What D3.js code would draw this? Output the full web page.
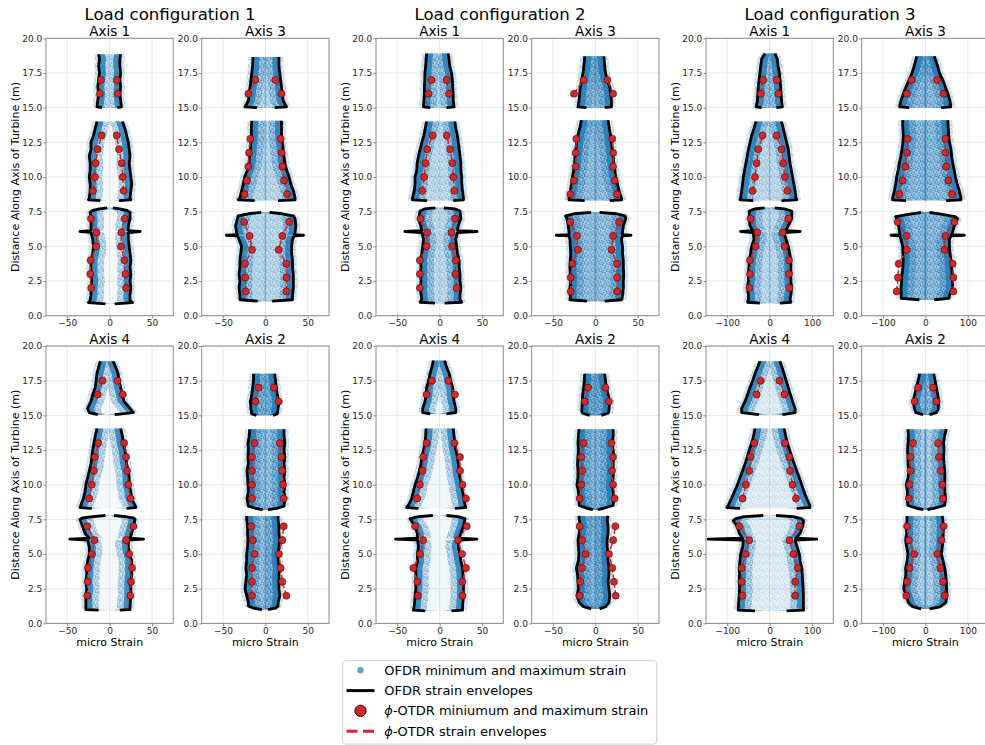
<!DOCTYPE html>
<html><head><meta charset="utf-8">
<script src="https://cdn.jsdelivr.net/npm/d3@7"></script>
<style>body{margin:0;background:#fff}svg{display:block;font-family:"DejaVu Sans",sans-serif}</style>
</head><body><svg id="c" width="985" height="745"></svg>
<script>
// ---------------- data ----------------
const configTitles = ["Load configuration 1", "Load configuration 2", "Load configuration 3"];
const axisTitlesTop = ["Axis 1", "Axis 3"];
const axisTitlesBottom = ["Axis 4", "Axis 2"];
const yTicks = [0, 2.5, 5, 7.5, 10, 12.5, 15, 17.5, 20];
const xTicksSmall = [-50, 0, 50];
const xTicksLarge = [-100, 0, 100];
const xDomainSmall = [-75, 75];
const xDomainLarge = [-150, 150];
const legendLabels = ["OFDR minimum and maximum strain", "OFDR strain envelopes",
  "ϕ-OTDR miniumum and maximum strain", "ϕ-OTDR strain envelopes"];

// OFDR envelopes: segments of [height m, min strain, max strain]
const env_c1_ax1 = [
 [[0.85,-5,6],[0.95,-25,27],[1.1,-23,24],[1.5,-22,24],[2,-22,25],[2.5,-21,24],[3,-22,25],[3.5,-22,24],[4,-22,25],[4.5,-20,24],[5,-19,23],[5.5,-20,22],[6,-22,22],[6.07,-35,36],[6.14,-22,22],[6.5,-22,22],[7,-22,24],[7.45,-23,24],[7.6,-20,20],[7.7,-12,12],[7.78,-3,4]],
 [[8.3,-11,11],[8.35,-25,25],[8.5,-24,24],[9,-23,25],[9.5,-23,26],[10,-24,25],[10.5,-23,24],[11,-23,23],[11.5,-24,24],[12,-22,23],[12.5,-22,22],[13,-19,20],[13.5,-17,18],[14,-15,15]],
 [[15,-9,9],[15.05,-15,14],[15.5,-14,13],[16,-13,12],[16.5,-14,13],[17,-13,12],[17.5,-12,13],[18,-13,12],[18.5,-12,12],[18.85,-13,13]]
];
const env_c1_ax3 = [
 [[1.05,-9,8],[1.15,-30,32],[1.5,-30,32],[2,-31,33],[2.5,-30,33],[3,-31,33],[3.5,-30,32],[4,-30,32],[4.5,-29,31],[5,-28,31],[5.5,-31,32],[5.75,-33,34],[5.8,-46,45],[5.85,-33,34],[6,-34,35],[6.5,-35,36],[7,-33,35],[7.2,-32,33],[7.35,-20,20],[7.45,-5,5]],
 [[8.3,-12.6,15],[8.35,-32,35],[8.5,-30,35],[9,-28,33],[9.5,-26,30],[10,-24.4,28],[10.5,-21,25],[11,-19.3,23],[11.5,-18.5,22],[12,-17.7,21],[12.5,-17,20],[13,-16.5,19],[13.5,-16.5,19],[14.05,-16,19]],
 [[15,-10,11],[15.05,-24,25],[15.5,-20,21],[16,-19,20],[16.5,-18,19],[17,-17,18],[17.5,-16,17],[18,-15,16],[18.65,-14.6,16]]
];
const env_c1_ax4 = [
 [[0.95,-13,12],[1,-28,24],[1.2,-28,24],[2,-28,25],[2.5,-27,25],[3,-28,25],[3.5,-27,26],[4,-27,26],[4.5,-26,26],[5,-24,24],[5.5,-24,22],[6,-26,22],[6.07,-47,40],[6.14,-24,24],[6.5,-29,26],[7,-32,28],[7.5,-35,30],[7.6,-32,28],[7.7,-20,18],[7.78,-5,5]],
 [[8.3,-21,20],[8.35,-35,31],[8.5,-34,30],[9,-31,26],[9.5,-29,25],[10,-28,23],[10.5,-26,23],[11,-24,22],[11.5,-22,20],[12,-21,19],[12.5,-20,18],[13,-18.5,16],[13.5,-17,15],[14.05,-15,13]],
 [[15.05,-14,6],[15.2,-24,28],[15.5,-26,24],[16,-22,17],[16.5,-20,15],[17,-17,13],[17.5,-16,11],[18,-15,10],[18.5,-13,7],[18.9,-11,4]]
];
const env_c1_ax2 = [
 [[1,-4,3],[1.1,-14,12],[1.25,-20,15],[1.5,-20,15],[2,-22,17],[2.5,-24,16],[3,-23,16],[3.5,-22,16],[4,-23,17],[4.5,-22,15],[5,-22,15],[5.5,-21,16],[6,-20.5,17],[6.5,-21,16],[7,-21,16],[7.5,-22,15],[7.75,-22,15]],
 [[8.2,-3,3],[8.3,-12,14],[8.45,-20,22],[9,-21.7,23],[9.5,-20,22],[10,-20.5,23],[10.5,-21,22],[11,-21.7,23],[11.5,-20,22],[12,-20.5,23],[12.5,-20,22],[13,-20.5,23],[13.5,-19,22],[14,-18.5,22]],
 [[15,-10.6,9],[15.1,-16,14],[15.5,-17,15],[16,-17.7,16],[16.5,-16,14],[17,-15,13],[17.5,-14,12],[18,-14,11]]
];
const env_c2_ax1 = [
 [[0.9,-5.5,6],[0.97,-23,26],[1.2,-21,24],[1.5,-22,24],[2,-22.5,25],[2.5,-22,24],[3,-22.5,24],[3.5,-22,23],[4,-22.5,23],[4.5,-21,21],[5,-20,20],[5.5,-19,19],[6,-21,21],[6.07,-41,44],[6.14,-21,21],[6.5,-22.5,22],[7,-25,25],[7.55,-23,24],[7.7,-18,18],[7.78,-5,5]],
 [[8.3,-15,16],[8.35,-32,28],[8.5,-32,28],[9,-30,27],[9.5,-29,26],[10,-29,26],[10.5,-27,25],[11,-26.5,25],[11.5,-25,24],[12,-23,23],[12.5,-21,22],[13,-18.6,21],[13.5,-17,19],[14,-15.4,18]],
 [[15,-11,8],[15.05,-19,17],[15.5,-18.6,16],[16,-18,16],[16.5,-18,15.4],[17,-17.5,15],[17.5,-17.4,14],[18,-16.5,12],[18.5,-16,11],[18.9,-15.4,10]]
];
const env_c2_ax3 = [
 [[1.05,-10,11],[1.15,-30,31],[1.4,-29.5,32],[2,-30,33],[2.5,-29,33],[3,-29.5,33.5],[3.5,-30,33],[4,-29.5,33],[4.5,-29,32],[5,-29.5,32],[5.5,-30,30.7],[5.75,-31,32],[5.8,-46,42],[5.85,-31,32],[6,-31,32],[6.5,-32,33],[7,-33.5,36],[7.2,-35,35],[7.35,-25,25],[7.45,-5,5]],
 [[8.3,-12.6,17],[8.35,-31,31],[8.5,-31,30.7],[9,-29.5,28],[9.5,-28,26],[10,-27,24],[10.5,-25.5,23],[11,-24.4,21.7],[11.5,-24,21],[12,-23,20],[12.5,-22,19],[13,-20.5,18],[13.5,-18.5,16.5],[14.1,-16.5,15]],
 [[15,-10.6,11],[15.05,-20.5,19],[15.5,-19.3,19],[16,-18.5,18],[16.5,-17.7,17],[17,-16,14],[17.5,-14.6,12],[18,-13.5,11],[18.7,-12.6,10]]
];
const env_c2_ax4 = [
 [[0.9,-17,14],[0.95,-31,27],[1.2,-30,27],[2,-29,28],[2.5,-28,28],[3,-28,28],[3.5,-28,27.5],[4,-28,27],[4.5,-26,25],[5,-26.4,24],[5.5,-25,22],[6,-26,23],[6.07,-52,44],[6.14,-26,23],[6.5,-26.4,25],[7,-29,28],[7.55,-35,30],[7.7,-25,22],[7.78,-8,8]],
 [[8.3,-25,18],[8.35,-39,31],[8.5,-37,30],[9,-33,28.7],[9.5,-31,27],[10,-29,26],[10.5,-26,24],[11,-24,23],[11.5,-22,22],[12,-21,21],[12.5,-19,19],[13,-17.3,18],[13.5,-16.5,17],[14.05,-16,16]],
 [[15.1,-11,8],[15.2,-20,19],[15.5,-20,19],[16,-17.3,17],[16.5,-16,16],[17,-15.4,15.4],[17.5,-13,13],[18,-11.4,11.4],[18.5,-9,8],[18.95,-7.5,6]]
];
const env_c2_ax2 = [
 [[1.05,-5,5],[1.2,-14,12],[1.5,-19,16],[2,-21.7,17],[2.5,-20,16],[3,-20.5,15],[3.5,-21,16],[4,-22.4,16],[4.5,-20,15],[5,-19.3,15],[5.5,-20,14],[6,-20.5,13.8],[6.5,-19,15],[7,-17.7,15],[7.5,-19,14],[7.75,-19.3,15]],
 [[8.2,-3,3],[8.3,-10,10],[8.5,-19,21],[9,-19.3,21.7],[9.5,-20,21],[10,-21.7,20],[10.5,-20.5,21],[11,-20.5,21],[11.5,-21,21],[12,-20.5,21.7],[12.5,-20,21],[13,-20.5,20],[13.5,-20,21],[14,-19.3,21]],
 [[15,-6.7,7],[15.15,-15,15],[15.3,-16,16],[16,-15.4,17],[16.5,-15,15],[17,-13.8,13],[17.5,-13,12],[18,-12.6,11]]
];
const env_c3_ax1 = [
 [[0.9,-23,24],[0.97,-52,50],[1.2,-50,48],[1.5,-50,50],[2,-52.8,52],[2.5,-50,50],[3,-50,50],[3.5,-49,50],[4,-48,50],[4.5,-45,47],[5,-42.5,44],[5.5,-37,38.6],[6,-38.6,34],[6.07,-68.5,72],[6.14,-40,38],[6.5,-46.5,44],[7,-48,52],[7.55,-48,52],[7.7,-35,35],[7.78,-12,12]],
 [[8.3,-38.6,28],[8.35,-70,64],[8.5,-68.5,62],[9,-66,60],[9.5,-64,57],[10,-62,54],[10.5,-59,51],[11,-56,48],[11.5,-53,46],[12,-50,44],[12.5,-46,40],[13,-42.5,36],[13.5,-37,32],[14,-32,28]],
 [[15,-19,16],[15.05,-32,30],[15.5,-29,28],[16,-28,27],[16.5,-27,26],[17,-25,24.5],[17.5,-23,23],[18,-21,20],[18.5,-19,18],[18.9,-11,12.6]]
];
const env_c3_ax3 = [
 [[1.15,-14,21],[1.25,-57,56],[1.5,-57,57],[2,-57.5,64.6],[2.5,-56,64],[3,-55,63],[3.5,-53,62],[4,-52,60.6],[4.5,-53,58],[5,-53.5,56.7],[5.5,-57.5,56.7],[5.75,-60,60],[5.8,-81,92],[5.85,-60,62],[6,-61,64],[6.5,-63,68.5],[7,-67.7,76],[7.15,-70,70],[7.3,-40,40],[7.45,-10,10]],
 [[8.3,-45.7,49],[8.35,-77,84],[8.5,-77,84],[9,-73,80],[9.5,-70,75],[10,-67.7,71],[10.5,-64,68],[11,-61.4,64.6],[11.5,-58,62],[12,-55,60.6],[12.5,-53,57],[13,-52,55],[13.5,-53,54],[14.1,-53.5,53]],
 [[15,-38,37],[15.05,-61,60],[15.5,-57.5,58],[16,-52,53],[16.5,-45.7,47],[17,-38,41],[17.5,-31.5,33],[18,-26,29],[18.7,-20.5,21]]
];
const env_c3_ax4 = [
 [[0.9,-34.6,40],[0.95,-74,80],[1.2,-74,79.5],[2,-71.7,79.5],[2.5,-71,79],[3,-71.7,78],[3.5,-71,77],[4,-71.7,75.6],[4.5,-70,72],[5,-68.5,70],[5.5,-63.8,65],[6,-62,60],[6.07,-145,111],[6.14,-64,62],[6.5,-71.7,71.7],[7,-76,78],[7.4,-86,80],[7.55,-80,75],[7.7,-60,55],[7.78,-15,15]],
 [[8.3,-70,63.8],[8.35,-101,95],[8.5,-97.6,95],[9,-90,87.4],[9.5,-83,81],[10,-76,75.6],[10.5,-70,70],[11,-63.8,63.8],[11.5,-58,58],[12,-52.8,52],[12.5,-48,47],[13,-42.5,41.7],[13.5,-38,38],[14.05,-34.6,34]],
 [[15.05,-25,30],[15.2,-66,60],[15.5,-66,60],[16,-58,54],[16.5,-52,49],[17,-46.5,44],[17.5,-40,39],[18,-34.6,34],[18.5,-28,29],[18.9,-23,24]]
];
const env_c3_ax2 = [
 [[1.05,-10,10],[1.2,-30,35],[1.5,-40,48],[2,-45,51],[2.5,-51,50],[3,-48.8,49.6],[3.5,-46,48],[4,-46.5,45.7],[4.5,-43,42],[5,-41,37.8],[5.5,-44,40],[6,-46.5,41.7],[6.5,-44,42],[7,-45,43],[7.5,-43,41],[7.75,-43,40]],
 [[8.2,-5,5],[8.3,-20,20],[8.5,-41,45],[9,-43,48],[9.5,-42,46],[10,-45,45.7],[10.5,-41,46],[11,-38.6,45.7],[11.5,-41,44],[12,-41,43],[12.5,-42,44],[13,-41,43],[13.5,-40,45],[14,-41,49.6]],
 [[15.05,-5.5,10],[15.2,-22,26],[15.4,-25,30],[16,-29,32],[16.5,-25,29],[17,-21,26],[17.5,-17,23],[18,-13.4,19.7]]
];

// phi-OTDR points: segments of [height m, min strain, max strain]
const red_c1_ax1 = [[[2,-21.7,19.3],[3,-22.8,18.5],[4,-22.4,17.3],[5,-16,13.4],[6,-15.4,13.8],[7,-22,17.7]],[[9,-19.7,16.5],[10,-17.3,15.4],[11,-16.5,14.2],[12,-14.2,11],[13,-9.4,8.3]],[[16,-11.5,9.5],[17,-10.3,8.5]]];
const red_c1_ax3 = [[[1.75,-23,24.8],[2.75,-23.6,24.8],[3.75,-24,24.8],[4.75,-15.7,15.7],[5.75,-18.5,20],[6.75,-25,28]],[[8.75,-24.4,25.6],[9.75,-21.6,22],[10.75,-20,20],[11.75,-19.3,19.3],[12.75,-17.7,18]],[[16,-20,19],[17,-11.8,11.8]]];
const red_c1_ax4 = [[[2,-26.4,24.4],[3,-26,25.2],[4,-25.6,26.4],[5,-21,23],[6,-17.7,19.3],[7,-26.4,28]],[[9,-24,24.8],[10,-21,22],[11,-18.5,20.5],[12,-17.3,19.3],[13,-13.4,17]],[[16.5,-14,15.4],[17.5,-8.3,9.4]]];
const red_c1_ax2 = [[[2,-15.7,24.8],[3,-15.7,20],[4,-15.7,18],[5,-12.6,16],[6,-14.6,20],[7,-16.5,21.7]],[[9,-15.7,21.7],[10,-15.7,20.9],[11,-15.7,19.7],[12,-15.7,19],[13,-12.6,17]],[[16,-11.8,15.7],[17,-7.9,10.2]]];
const red_c2_ax1 = [[[2,-23.3,20],[3,-23.3,18.6],[4,-23.3,19],[5,-15.4,14.6],[6,-14.6,13.8],[7,-22.5,18]],[[9,-20.6,17.4],[10,-18.2,16.2],[11,-16.6,15],[12,-14.6,12.3],[13,-8.3,8.3]],[[16,-13,11],[17,-9.5,8.3]]];
const red_c2_ax3 = [[[1.75,-29,25.6],[2.75,-29,25.6],[3.75,-27,25.6],[4.75,-20.5,19],[5.75,-21.7,21],[6.75,-29.5,28]],[[8.75,-29.5,25.6],[9.75,-25.2,22.8],[10.75,-23.2,20.9],[11.75,-23.2,21],[12.75,-22.4,20]],[[16,-25.2,20.9],[17,-13.8,14.2]]];
const red_c2_ax4 = [[[2,-25.6,27],[3,-26.4,26.8],[4,-31,31],[5,-23.2,26.4],[6,-19.3,21.7],[7,-29,32]],[[9,-26.4,31],[10,-23.2,26.8],[11,-20,24],[12,-19.3,24],[13,-15.4,17.3]],[[16.5,-15.4,18],[17.5,-9,10.2]]];
const red_c2_ax2 = [[[2,-18.5,24],[3,-17.7,22],[4,-15.7,20],[5,-11.4,16],[6,-15.4,21],[7,-18.5,23.6]],[[9,-18.5,22.8],[10,-16.5,20.9],[11,-15.4,19.7],[12,-16.5,20.9],[13,-13.8,19]],[[16,-12.6,16],[17,-8.7,11.8]]];
const red_c3_ax1 = [[[2,-48,46.5],[3,-46.5,45.7],[4,-46.5,45.7],[5,-33,35.4],[6,-29,30.7],[7,-45,44]],[[9,-40,41.7],[10,-34.6,36],[11,-30.7,32],[12,-27,28],[13,-16.5,16.5]],[[16,-20.5,20.5],[17,-15,16.5]]];
const red_c3_ax3 = [[[1.75,-67.7,66],[2.75,-64.6,66],[3.75,-63,64.6],[4.75,-43.3,45],[5.75,-44,47.2],[6.75,-65.4,68.5]],[[8.75,-61.4,63],[9.75,-53.5,54.3],[10.75,-47,48.8],[11.75,-43.3,47],[12.75,-41.7,47.2]],[[16,-43.3,42.5],[17,-32.3,27.6]]];
const red_c3_ax4 = [[[2,-63.8,60],[3,-66,60],[4,-66,66],[5,-56,56],[6,-48,46.5],[7,-71.7,70]],[[9,-63.8,62],[10,-56,54],[11,-48,48],[12,-45,46.5],[13,-36,36]],[[16.5,-30.7,34.6],[17.5,-21,23]]];
const red_c3_ax2 = [[[2,-45,45.7],[3,-43,41.7],[4,-37,35.4],[5,-26,28.3],[6,-38.6,37.8],[7,-43,43]],[[9,-38.6,41.7],[10,-37,40],[11,-35.4,36],[12,-35.4,32],[13,-29,30]],[[16,-25.2,26],[17,-17.3,18]]];

// ---------------- layout & style ----------------
const colLeft = [46, 201.7, 376, 531.7, 706, 861.7];
const rowTop = [38.3, 346];
const PW = 127.3, PH = 277.4;
const BLUE = "#1f77b4";
// cloud density inside the envelopes (style), and central column strength
const centerFill = [0.03, 0.3, 0.04, 0.5, 0.28, 0.5, 0.05, 0.55, 0.28, 0.55, 0.14, 0.36];
const centerLine = [0, 0.25, 0, 0.3, 0, 0.4, 0, 0.4, 0.2, 0.6, 0, 0.6];
// speckle texture tile (style only)
const speckTile = [[0.8,0.9],[4.3,2.2],[2.2,4.6],[6.1,5.4],[0.4,6.6],[5.3,0.2],[3.4,6.9],[6.6,3.1],[2.9,1.5]];

const svg = d3.select("#c");
svg.append("rect").attr("width",985).attr("height",745).attr("fill","#fff");
const defs = svg.append("defs");
const pat = defs.append("pattern").attr("id","speck").attr("patternUnits","userSpaceOnUse")
  .attr("width",7.3).attr("height",7.3);
pat.selectAll("circle").data(speckTile).join("circle")
  .attr("cx",d=>d[0]).attr("cy",d=>d[1]).attr("r",0.85).attr("fill","#1f77b4");

const panels = [
  {cfg:0,row:0,sub:0,env:env_c1_ax1,red:red_c1_ax1},
  {cfg:0,row:0,sub:1,env:env_c1_ax3,red:red_c1_ax3},
  {cfg:0,row:1,sub:0,env:env_c1_ax4,red:red_c1_ax4},
  {cfg:0,row:1,sub:1,env:env_c1_ax2,red:red_c1_ax2},
  {cfg:1,row:0,sub:0,env:env_c2_ax1,red:red_c2_ax1},
  {cfg:1,row:0,sub:1,env:env_c2_ax3,red:red_c2_ax3},
  {cfg:1,row:1,sub:0,env:env_c2_ax4,red:red_c2_ax4},
  {cfg:1,row:1,sub:1,env:env_c2_ax2,red:red_c2_ax2},
  {cfg:2,row:0,sub:0,env:env_c3_ax1,red:red_c3_ax1},
  {cfg:2,row:0,sub:1,env:env_c3_ax3,red:red_c3_ax3},
  {cfg:2,row:1,sub:0,env:env_c3_ax4,red:red_c3_ax4},
  {cfg:2,row:1,sub:1,env:env_c3_ax2,red:red_c3_ax2}
];

panels.forEach((p, i) => {
  const col = p.cfg * 2 + p.sub;
  const x0 = colLeft[col], y0 = rowTop[p.row];
  const dom = p.cfg === 2 ? xDomainLarge : xDomainSmall;
  const xt = p.cfg === 2 ? xTicksLarge : xTicksSmall;
  const x = d3.scaleLinear().domain(dom).range([x0, x0 + PW]);
  const y = d3.scaleLinear().domain([0, 20]).range([y0 + PH, y0]);
  const g = svg.append("g");
  const cid = "clip" + i;
  g.append("clipPath").attr("id", cid).append("rect")
    .attr("x", x0).attr("y", y0).attr("width", PW).attr("height", PH);

  // grid
  const grid = g.append("g").attr("stroke", "#e2e2e2").attr("stroke-width", 0.8);
  grid.selectAll("line.h").data(yTicks).join("line").attr("class","h")
    .attr("x1", x0).attr("x2", x0 + PW).attr("y1", d => y(d)).attr("y2", d => y(d));
  grid.selectAll("line.v").data(xt).join("line").attr("class","v")
    .attr("y1", y0).attr("y2", y0 + PH).attr("x1", d => x(d)).attr("x2", d => x(d));

  const plot = g.append("g").attr("clip-path", `url(#${cid})`);
  const bw = 6.5;
  const mid = d => (x(d[1]) + x(d[2])) / 2;
  const lhalo = d3.area().y(d => y(d[0])).x0(d => x(d[1]) - 4.5).x1(d => x(d[1]));
  const rhalo = d3.area().y(d => y(d[0])).x0(d => x(d[2])).x1(d => x(d[2]) + 4.5);
  const inner = d3.area().y(d => y(d[0])).x0(d => x(d[1])).x1(d => x(d[2]));
  const lband = d3.area().y(d => y(d[0])).x0(d => x(d[1])).x1(d => Math.min(x(d[1]) + bw, mid(d)));
  const rband = d3.area().y(d => y(d[0])).x0(d => Math.max(x(d[2]) - bw, mid(d))).x1(d => x(d[2]));
  const lsoft = d3.area().y(d => y(d[0])).x0(d => x(d[1])).x1(d => Math.min(x(d[1]) + bw * 2, mid(d)));
  const rsoft = d3.area().y(d => y(d[0])).x0(d => Math.max(x(d[2]) - bw * 2, mid(d))).x1(d => x(d[2]));
  const lline = d3.line().x(d => x(d[1])).y(d => y(d[0]));
  const rline = d3.line().x(d => x(d[2])).y(d => y(d[0]));

  p.env.forEach(seg => {
    [lhalo, rhalo].forEach(a => {
      plot.append("path").attr("d", a(seg)).attr("fill", BLUE).attr("opacity", 0.1);
      plot.append("path").attr("d", a(seg)).attr("fill", "url(#speck)").attr("opacity", 0.35);
    });
    plot.append("path").attr("d", inner(seg)).attr("fill", BLUE).attr("opacity", centerFill[i] * 0.75);
    plot.append("path").attr("d", inner(seg)).attr("fill", "url(#speck)").attr("opacity", Math.min(1, centerFill[i] * 1.4));
    if (centerLine[i] > 0) {
      plot.append("line").attr("x1", x(0)).attr("x2", x(0))
        .attr("y1", y(seg[0][0])).attr("y2", y(seg[seg.length - 1][0]))
        .attr("stroke", BLUE).attr("stroke-width", 2).attr("opacity", centerLine[i]);
    }
    [lsoft, rsoft].forEach(a => {
      plot.append("path").attr("d", a(seg)).attr("fill", BLUE).attr("opacity", 0.18);
      plot.append("path").attr("d", a(seg)).attr("fill", "url(#speck)").attr("opacity", 0.5);
    });
    [lband, rband].forEach(a => plot.append("path").attr("d", a(seg)).attr("fill", BLUE).attr("opacity", 0.78));
  });
  p.env.forEach(seg => {
    [lline, rline].forEach(ln => plot.append("path").attr("d", ln(seg))
      .attr("fill", "none").attr("stroke", "#000").attr("stroke-width", 2.8)
      .attr("stroke-linejoin", "round"));
  });

  // phi-OTDR
  p.red.forEach(seg => {
    [lline, rline].forEach(ln => plot.append("path").attr("d", ln(seg)).attr("fill", "none")
      .attr("stroke", "#d62728").attr("stroke-width", 1.5).attr("stroke-dasharray", "5.5,2.4"));
  });
  p.red.forEach(seg => {
    seg.forEach(d => {
      [d[1], d[2]].forEach(v => plot.append("circle").attr("cx", x(v)).attr("cy", y(d[0]))
        .attr("r", 3.5).attr("fill", "#d62728").attr("stroke", "#3a0a0a").attr("stroke-width", 0.6));
    });
  });

  // spines
  g.append("rect").attr("x", x0).attr("y", y0).attr("width", PW).attr("height", PH)
    .attr("fill", "none").attr("stroke", "#8a8a8a").attr("stroke-width", 1);

  // axes
  const ya = g.append("g").attr("transform", `translate(${x0},0)`)
    .call(d3.axisLeft(y).tickValues(yTicks).tickFormat(d3.format(".1f")).tickSize(2.6).tickPadding(1.2).tickSizeOuter(0));
  const xa = g.append("g").attr("transform", `translate(0,${y0 + PH})`)
    .call(d3.axisBottom(x).tickValues(xt).tickFormat(d3.format("d")).tickSize(2.6).tickPadding(1.6).tickSizeOuter(0));
  [ya, xa].forEach(a => {
    a.select(".domain").remove();
    a.selectAll("line").attr("stroke", "#8a8a8a");
    a.selectAll("text").attr("fill", "#262626").attr("font-size", "9px")
      .attr("font-family", "DejaVu Sans, sans-serif");
  });

  // subplot title
  g.append("text").attr("x", x0 + PW / 2).attr("y", y0 - 2.4).attr("text-anchor", "middle")
    .attr("font-size", "13.5px").attr("fill", "#000")
    .text(p.row === 0 ? axisTitlesTop[p.sub] : axisTitlesBottom[p.sub]);

  if (p.row === 1) {
    g.append("text").attr("x", x0 + PW / 2).attr("y", y0 + PH + 22.3).attr("text-anchor", "middle")
      .attr("font-size", "11px").attr("fill", "#000").text("micro Strain");
  }
  if (p.sub === 0) {
    const cy = y0 + PH / 2;
    g.append("text").attr("transform", `translate(${x0 - 27.5},${cy}) rotate(-90)`)
      .attr("text-anchor", "middle").attr("font-size", "11px").attr("fill", "#000")
      .text("Distance Along Axis of Turbine (m)");
  }
});

// configuration titles
configTitles.forEach((t, k) => {
  svg.append("text").attr("x", 170 + 330 * k).attr("y", 19.5).attr("text-anchor", "middle")
    .attr("font-size", "16.6px").attr("fill", "#000").text(t);
});

// legend
const lg = svg.append("g");
lg.append("rect").attr("x", 342.7).attr("y", 660.7).attr("width", 314).attr("height", 83.4)
  .attr("rx", 3).attr("fill", "#fff").attr("stroke", "#d0d0d0").attr("stroke-width", 1);
const ly = [670.2, 690.6, 710.8, 731.3];
lg.append("circle").attr("cx", 360.5).attr("cy", ly[0]).attr("r", 3.2).attr("fill", BLUE).attr("opacity", 0.7);
lg.append("line").attr("x1", 346.5).attr("x2", 374.5).attr("y1", ly[1]).attr("y2", ly[1])
  .attr("stroke", "#000").attr("stroke-width", 3);
lg.append("circle").attr("cx", 360.5).attr("cy", ly[2]).attr("r", 5.6).attr("fill", "#d62728")
  .attr("stroke", "#000").attr("stroke-width", 1);
lg.append("line").attr("x1", 346.5).attr("x2", 374.5).attr("y1", ly[3]).attr("y2", ly[3])
  .attr("stroke", "#d62728").attr("stroke-width", 3).attr("stroke-dasharray", "11,5.5");
legendLabels.forEach((t, k) => {
  const tx = lg.append("text").attr("x", 384.3).attr("y", ly[k] + 4.6).attr("font-size", "13px").attr("fill", "#000");
  if (t.startsWith("ϕ")) {
    tx.append("tspan").attr("font-style", "italic").text("ϕ");
    tx.append("tspan").text(t.slice(1));
  } else tx.text(t);
});
</script></body></html>
